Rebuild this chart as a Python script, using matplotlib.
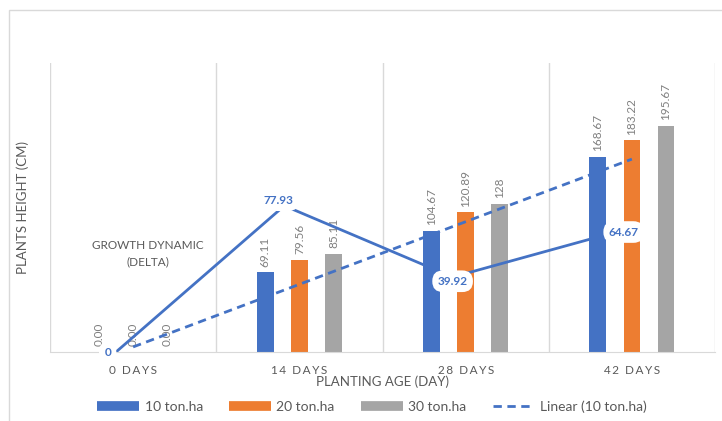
import numpy as np
import matplotlib.pyplot as plt
from matplotlib.lines import Line2D
from matplotlib.patches import Rectangle

plt.rcParams['font.family'] = ['Lato', 'DejaVu Sans']

# chart data
ages = ['0 DAYS', '14 DAYS', '28 DAYS', '42 DAYS']
h10 = [0.00, 69.11, 104.67, 168.67]
h20 = [0.00, 79.56, 120.89, 183.22]
h30 = [0.00, 85.11, 128, 195.67]
delta = [0, 77.93, 39.92, 64.67]
bar_labels = [['0.00', '69.11', '104.67', '168.67'],
              ['0.00', '79.56', '120.89', '183.22'],
              ['0.00', '85.11', '128', '195.67']]

blue = '#4472c4'
orange = '#ed7d31'
gray = '#a5a5a5'
txt = '#595959'

fig = plt.figure(figsize=(7.22, 4.21), dpi=100)
fig.patches.append(Rectangle((9 / 722, -0.01), 1.0, 415 / 421, transform=fig.transFigure,
                             fill=False, edgecolor='#d9d9d9', lw=1))
rect = [50 / 722, 69 / 421, 665 / 722, 289 / 421]
ax = fig.add_axes(rect)

x = np.arange(len(ages))
w = 0.1
off = 0.205
for i, (vals, col) in enumerate([(h10, blue), (h20, orange), (h30, gray)]):
    xs = x + (i - 1) * off
    ax.bar(xs, vals, width=w, color=col, zorder=2)
    for xi, v, lab in zip(xs, vals, bar_labels[i]):
        ax.annotate(lab, (xi, v), xytext=(0, 4), textcoords='offset points',
                    rotation=90, ha='center', va='bottom', fontsize=8.5, color='#7f7f7f', zorder=3)

# linear trend of the 10 ton.ha series
k, b = np.polyfit(x, h10, 1)
ax.plot(x, k * x + b, color=blue, lw=2, ls=(0, (3, 2)), zorder=4)

ax.set_xlim(-0.5, 3.5)
ax.set_ylim(0, 250)
ax.set_yticks([])
ax.set_xticks(x)
ax.set_xticklabels(['\u2009'.join(a) for a in ages], fontsize=8.5, color=txt)
ax.tick_params(axis='x', length=0, pad=9)
for s in ['top', 'right', 'left']:
    ax.spines[s].set_visible(False)
ax.spines['bottom'].set_color('#d9d9d9')
for gx in [-0.5, 0.5, 1.5, 2.5, 3.5]:
    ax.axvline(gx, color='#d9d9d9', lw=1, zorder=0)

ax.set_ylabel('PLANTS HEIGHT (CM)', fontsize=9.5, color=txt, labelpad=15)
ax.set_xlabel('PLANTING AGE (DAY)', fontsize=9.5, color=txt, labelpad=0)
ax.text(0.09, 85, 'GROWTH DYNAMIC\n(DELTA)', ha='center', va='center', fontsize=8.5,
        color=txt, linespacing=1.5)

# growth dynamic on its own hidden secondary axes
ax2 = fig.add_axes(rect, sharex=None)
ax2.patch.set_visible(False)
ax2.plot(x, delta, color=blue, lw=2, zorder=5)
ax2.set_xlim(-0.392, 3.559)
ax2.set_ylim(0, 154)
ax2.axis('off')
lab_off = [(-6, 0), (-4, 4), (0, -3), (2, -1)]
for xi, v, (dx, dy) in zip(x, delta, lab_off):
    lab = '0' if v == 0 else f'{v:.2f}'
    ax2.annotate(lab, (xi, v), xytext=(dx, dy), textcoords='offset points', ha='center',
                 va='center', fontsize=8.5, color=blue, fontweight='bold', zorder=6,
                 bbox=dict(boxstyle='round,pad=0.45,rounding_size=0.9', fc='white', ec='none'))

handles = [Line2D([], [], color=blue, lw=7, solid_capstyle='butt'),
           Line2D([], [], color=orange, lw=7, solid_capstyle='butt'),
           Line2D([], [], color=gray, lw=7, solid_capstyle='butt'),
           Line2D([], [], color=blue, lw=2, ls=(0, (3, 2)))]
fig.legend(handles, ['10 ton.ha', '20 ton.ha', '30 ton.ha', 'Linear (10 ton.ha)'],
           loc='center', bbox_to_anchor=(372 / 722, 14 / 421), ncol=4, frameon=False,
           fontsize=10, handlelength=3.0, columnspacing=1.9, handletextpad=0.4,
           labelcolor=txt)

fig.savefig('out.png', dpi=100)
